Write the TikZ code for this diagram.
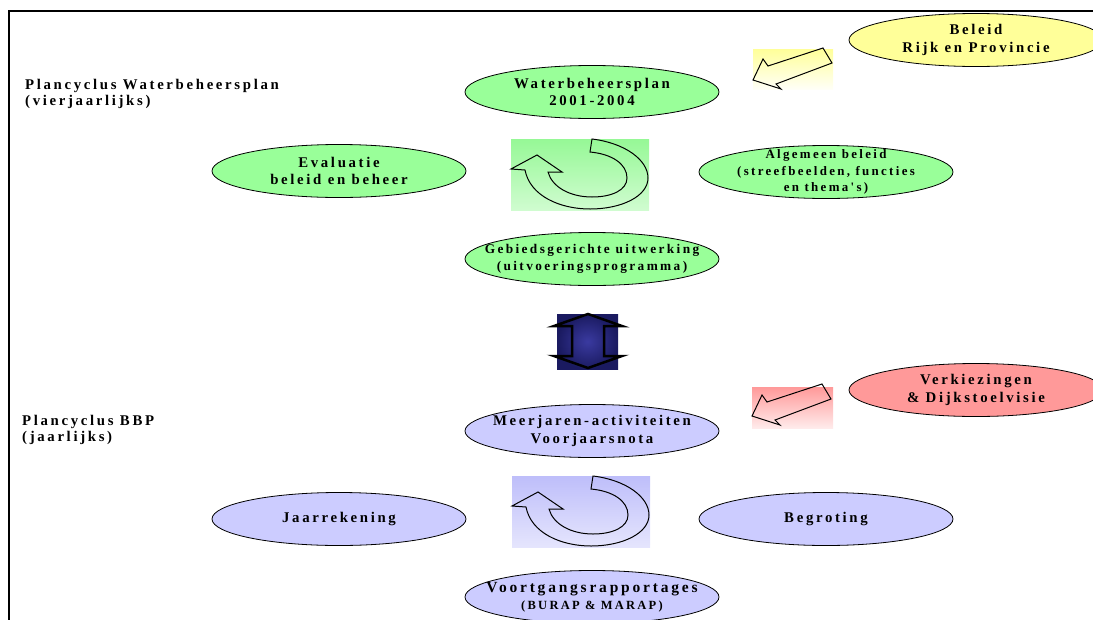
\documentclass[tikz,border=0pt]{standalone}
\usepackage{fontspec}
\usetikzlibrary{shapes.geometric}
\newfontfamily\diagfont[LetterSpace=18]{Liberation Serif}
\definecolor{phasegreen}{RGB}{153,255,153}
\definecolor{phaseblue}{RGB}{204,204,255}
\definecolor{phaseyellow}{RGB}{255,255,153}
\definecolor{phasered}{RGB}{255,153,153}
\definecolor{cyclegreen}{RGB}{150,248,150}
\definecolor{cycleblue}{RGB}{190,190,250}
\definecolor{navyin}{RGB}{58,58,160}
\definecolor{navyout}{RGB}{26,26,96}
\tikzset{
PHASE/.style={ellipse,draw=black,line width=0.8pt,fill=#1,minimum width=254pt,minimum height=53pt,
  inner xsep=-60pt,inner ysep=-20pt,align=center,font=\diagfont\bfseries\fontsize{14.8}{17.5}\selectfont},
PHASE/.default=phasegreen,
SMALLER/.style={font=\diagfont\bfseries\fontsize{#1}{16.5}\selectfont},
TITLE/.style={align=left,inner sep=0pt,font=\diagfont\bfseries\fontsize{14.8}{16}\selectfont},
OUTLINE/.style={draw=black,line width=1pt,line join=miter},
% circular arrow, placed at the top left corner of its box
cyclearrow/.pic={
  \path[OUTLINE] (81,0) .. controls (114,4) and (137,21) .. (137,39)
    .. controls (137,57) and (111,70) .. (79,70)
    .. controls (49,70) and (19,57) .. (14,31)
    -- (0,30) -- (26,16) -- (51,33) -- (37,33)
    .. controls (41,48) and (59,58) .. (81,58)
    .. controls (101,58) and (116,51) .. (116,39)
    .. controls (116,25) and (101,15) .. (79,13) -- cycle;
},
% slanted block arrow, placed at its tip
leftarrow/.pic={
  \path[OUTLINE] (0,0) -- (10,-21) -- (15,-14) -- (70,-32) -- (79,-17) -- (23,4) -- (28,9) -- cycle;
},
}
\begin{document}
\begin{tikzpicture}[x=1pt,y=-1pt]
	\useasboundingbox (0,0) rectangle (1093,619);
	\clip (0,0) rectangle (1093,619);
	\draw[line width=1.5pt] (9,625) -- (9,11) -- (1100,11);
	%Plancyclus Waterbeheersplan
	\node[TITLE,anchor=west] (titlewbp) at (25,94) {Plancyclus Waterbeheersplan\\(vierjaarlijks)};
	\node[PHASE=phaseyellow] (beleid) at (976,40) {Beleid\\Rijk en Provincie};
	\node[PHASE] (wbp) at (592,92) {Waterbeheersplan\\2001-2004};
	\node[PHASE] (evaluatie) at (339,171) {Evaluatie\\beleid en beheer};
	\node[PHASE,SMALLER=12.9] (algemeen) at (826,172) {Algemeen beleid\\(streefbeelden, functies\\en thema's)};
	\node[PHASE,SMALLER=13.3] (gebied) at (592,259) {Gebiedsgerichte uitwerking\\(uitvoeringsprogramma)};
	\shade[top color=phaseyellow,bottom color=phaseyellow!8] (753,49) rectangle (833,89);
	\pic at (753,80) {leftarrow};
	\shade[top color=cyclegreen,bottom color=cyclegreen!45] (511,139) rectangle (649,210);
	\pic at (511,139) {cyclearrow};
	%Koppeling
	\shade[inner color=navyin,outer color=navyout] (557,314) rectangle (618,369);
	\path[draw=black,line width=2.5pt,line join=miter] (588,314) -- (554,326) -- (572,326) -- (572,356) -- (554,356)
		-- (588,368) -- (622,356) -- (604,356) -- (604,326) -- (622,326) -- cycle;
	%Plancyclus BBP
	\node[TITLE,anchor=west] (titlebbp) at (22,430) {Plancyclus BBP\\(jaarlijks)};
	\node[PHASE=phasered] (verkiezingen) at (976,390) {Verkiezingen\\\& Dijkstoelvisie};
	\node[PHASE=phaseblue] (meerjaren) at (592,431) {Meerjaren-activiteiten\\Voorjaarsnota};
	\node[PHASE=phaseblue] (jaarrekening) at (339,519) {Jaarrekening};
	\node[PHASE=phaseblue] (begroting) at (826,519) {Begroting};
	\node[PHASE=phaseblue,SMALLER=15.5] (voortgang) at (592,597) {Voortgangsrapportages\\{\fontsize{12.5}{14}\selectfont (BURAP \& MARAP)}};
	\shade[top color=phasered,bottom color=phasered!20] (752,387) rectangle (833,428);
	\pic at (752,416) {leftarrow};
	\shade[top color=cycleblue,bottom color=cycleblue!40] (512,476) rectangle (650,547);
	\pic at (512,476) {cyclearrow};
\end{tikzpicture}
\end{document}
